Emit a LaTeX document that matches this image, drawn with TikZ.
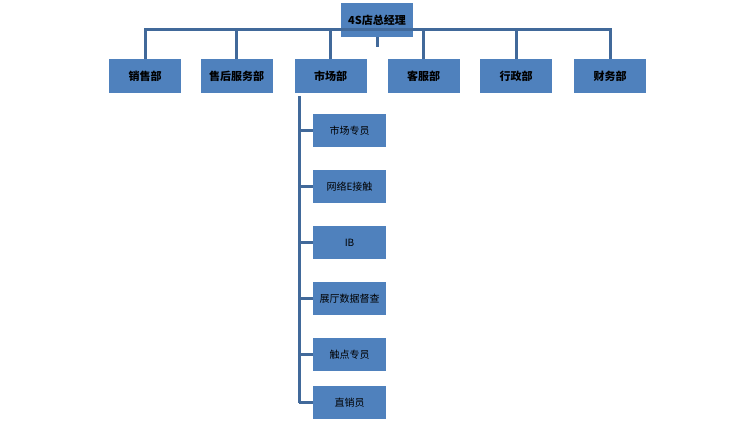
\documentclass[tikz,border=0pt]{standalone}
\usepackage{fontspec}
\newfontfamily\cjk{Noto Sans CJK SC}
\definecolor{boxc}{HTML}{4F81BD}
\definecolor{linec}{HTML}{41699A}
\begin{document}
\begin{tikzpicture}[x=1pt,y=-1pt,
  box/.style={fill=boxc,draw=none,minimum width=72pt,minimum height=34pt,inner sep=0pt,font=\cjk\bfseries\fontsize{11}{13}\selectfont},
  sub/.style={fill=boxc,draw=none,minimum width=73pt,minimum height=33pt,inner sep=0pt,font=\cjk\fontsize{10}{12}\selectfont},
  conn/.style={draw=linec,line width=3pt}]
\useasboundingbox (0,0) rectangle (754,425);
\node[box] (top) at (377,20) {4S店总经理};
\coordinate (bus) at (377,47);
\foreach \n/\x/\t in {a/145/销售部,b/236.5/售后服务部,c/330.5/市场部,d/423.5/客服部,e/516/行政部,f/610/财务部}{
  \node[box] (\n) at (\x,76.5) {\t};
}
\draw[conn] (top.south) -- (bus);
\draw[conn] (a.north) -- ++(0,-29.5) -| (f.north);
\foreach \n in {b,c,d,e}{\draw[conn] (\n.north) -- ++(0,-29.5);}
\coordinate (vt) at (299,96);
\coordinate (vb) at (299,403);
\draw[conn] (vt) -- (vb);
\foreach \n/\y/\t in {s1/130.5/市场专员,s2/186.5/网络E接触,s3/242.5/IB/OB,s4/298.5/展厅数据督查,s5/354.5/触点专员,s6/402.5/直销员}{
  \node[sub] (\n) at (349.5,\y) {\t};
  \draw[conn] (\n.west) -- (299,\y);
}
\end{tikzpicture}
\end{document}
